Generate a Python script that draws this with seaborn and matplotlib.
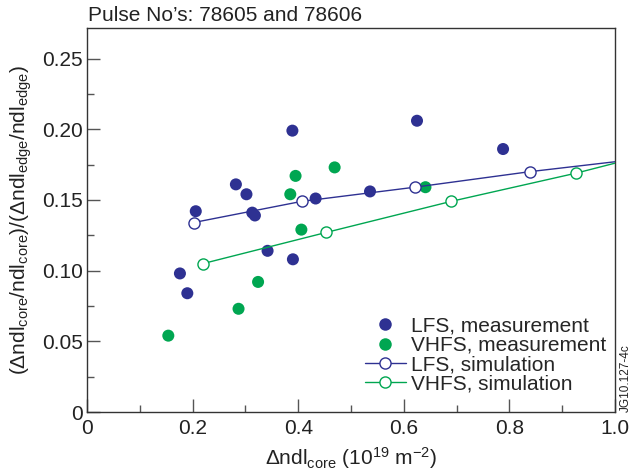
import pandas as pd
import numpy as np
import seaborn as sns
import matplotlib.pyplot as plt
from matplotlib.lines import Line2D
from matplotlib.ticker import MultipleLocator, FuncFormatter

# measured points
lfs_x = [0.176, 0.190, 0.206, 0.282, 0.302, 0.313, 0.318, 0.342, 0.389, 0.390, 0.433, 0.536, 0.625, 0.788]
lfs_y = [0.098, 0.084, 0.142, 0.161, 0.154, 0.141, 0.139, 0.114, 0.199, 0.108, 0.151, 0.156, 0.206, 0.186]
vhfs_x = [0.154, 0.287, 0.324, 0.385, 0.395, 0.406, 0.469, 0.641]
vhfs_y = [0.054, 0.073, 0.092, 0.154, 0.167, 0.129, 0.173, 0.159]

# simulation curves (last point is where the line leaves the frame)
lfs_sim_x = [0.202, 0.407, 0.621, 0.839, 1.0]
lfs_sim_y = [0.134, 0.149, 0.159, 0.170, 0.177]
vhfs_sim_x = [0.220, 0.453, 0.690, 0.927, 1.0]
vhfs_sim_y = [0.105, 0.127, 0.149, 0.169, 0.176]

blue = '#2e3192'
green = '#00a651'
fs = 15

sns.set_style('ticks')
plt.rcParams['font.family'] = ['Liberation Sans', 'DejaVu Sans']
plt.rcParams['mathtext.default'] = 'regular'

fig = plt.figure(figsize=(6.4, 4.72), dpi=100)
ax = fig.add_axes([87/640, 1-412/472, 528/640, 384/472])

meas = pd.DataFrame({'x': lfs_x + vhfs_x, 'y': lfs_y + vhfs_y,
                     'src': ['LFS'] * len(lfs_x) + ['VHFS'] * len(vhfs_x)})
sns.scatterplot(data=meas, x='x', y='y', hue='src', palette={'LFS': blue, 'VHFS': green},
                s=75, linewidth=0, legend=False, ax=ax, zorder=3)

sim = pd.DataFrame({'x': lfs_sim_x + vhfs_sim_x, 'y': lfs_sim_y + vhfs_sim_y,
                    'src': ['LFS'] * len(lfs_sim_x) + ['VHFS'] * len(vhfs_sim_x)})
for name, col in [('LFS', blue), ('VHFS', green)]:
    d = sim[sim.src == name]
    sns.lineplot(data=d, x='x', y='y', color=col, lw=1, marker='o', markersize=8,
                 markerfacecolor='white', markeredgecolor=col, markeredgewidth=1,
                 markevery=[0, 1, 2, 3], ax=ax, zorder=4)

ax.set_xlim(0, 1.0)
ax.set_ylim(0, 0.2716)
ax.xaxis.set_major_locator(MultipleLocator(0.2))
ax.xaxis.set_minor_locator(MultipleLocator(0.1))
ax.yaxis.set_major_locator(MultipleLocator(0.05))
ax.yaxis.set_minor_locator(MultipleLocator(0.025))
ax.xaxis.set_major_formatter(FuncFormatter(lambda v, p: '0' if abs(v) < 1e-9 else f'{v:.1f}'))
ax.yaxis.set_major_formatter(FuncFormatter(lambda v, p: '0' if abs(v) < 1e-9 else f'{v:.2f}'))
ax.tick_params(which='both', direction='in', top=False, right=False, colors='#555555',
               labelcolor='#222222', labelsize=fs, width=1)
ax.tick_params(which='major', length=9.5, pad=3)
ax.tick_params(which='minor', length=5)
ax.tick_params(axis='x', which='major', pad=5)
for s in ax.spines.values():
    s.set_color('#333333')
    s.set_linewidth(1)

ax.set_xlabel('Δndl$_{core}$ (10$^{19}$ m$^{-2}$)', fontsize=fs, color='#222222', labelpad=5)
ax.set_ylabel('(Δndl$_{core}$/ndl$_{core}$)/(Δndl$_{edge}$/ndl$_{edge}$)', fontsize=fs,
              color='#222222', labelpad=6)

fig.text(88/640, 1-21/472, 'Pulse No’s: 78605 and 78606', fontsize=fs, color='#222222',
         va='baseline', ha='left')
fig.text(626/640, 1-378/472, 'JG10.127-4c', rotation=90, fontsize=8.5, color='#222222',
         ha='center', va='center')

handles = [
    Line2D([], [], ls='none', marker='o', markersize=9, color=blue, markeredgewidth=0),
    Line2D([], [], ls='none', marker='o', markersize=9, color=green, markeredgewidth=0),
    Line2D([], [], color=blue, lw=1, marker='o', markersize=8, markerfacecolor='white',
           markeredgecolor=blue),
    Line2D([], [], color=green, lw=1, marker='o', markersize=8, markerfacecolor='white',
           markeredgecolor=green),
]
labels = ['LFS, measurement', 'VHFS, measurement', 'LFS, simulation', 'VHFS, simulation']
ax.legend(handles, labels, loc='lower right', frameon=False, fontsize=fs,
          handlelength=2.0, handletextpad=0.25, labelspacing=0.02,
          bbox_to_anchor=(1.0, 10/384), borderaxespad=0.0)

fig.savefig('out.png', dpi=100)
